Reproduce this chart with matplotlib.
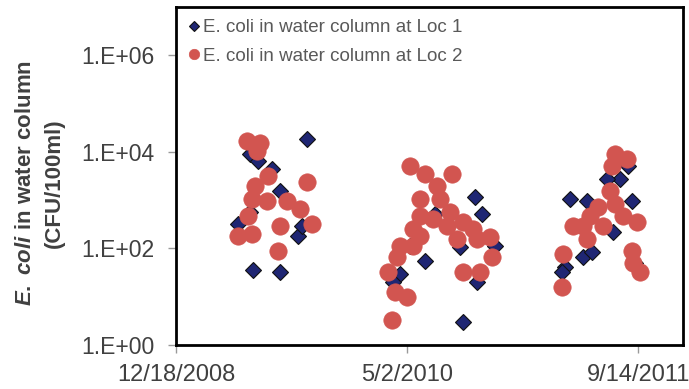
import datetime as dt
import numpy as np
import matplotlib
matplotlib.use("Agg")
import matplotlib.pyplot as plt

plt.rcParams['font.family'] = ['Liberation Sans', 'DejaVu Sans']
plt.rcParams['mathtext.fontset'] = 'custom'
plt.rcParams['mathtext.rm'] = 'Liberation Sans:bold'
plt.rcParams['mathtext.it'] = 'Liberation Sans:bold:italic'
plt.rcParams['mathtext.bf'] = 'Liberation Sans:bold'

start = dt.date(2008, 12, 18)

# sampling day (days after 12/18/2008) and E. coli CFU/100ml
loc1_day = [284, 160, 177, 208, 225, 134, 264, 167, 225, 160, 273,
            647, 662, 615, 539, 506, 690, 652, 485, 470, 621, 561,
            978, 961, 933, 853, 890, 987, 946, 881, 900, 842, 836, 994]
loc1_cfu = [18600, 9100, 6500, 4400, 1550, 316, 178, 36, 32, 560, 290,
            1150, 510, 105, 54, 110, 110, 20, 29, 20, 3, 510,
            5100, 2750, 2750, 1050, 950, 950, 215, 68, 83, 42, 33, 51]

loc2_day = [154, 182, 175, 199, 284, 171, 164, 197, 240, 268, 156, 294, 225, 134, 164, 221,
            506, 539, 597, 565, 528, 571, 528, 556, 593, 513, 587, 621, 643, 485, 513,
            478, 528, 608, 652, 680, 684, 459, 621, 658, 474, 500, 468,
            950, 976, 944, 939, 913, 950, 896, 968, 998, 859, 881, 924, 890, 987, 838,
            989, 1004, 836]
loc2_cfu = [17000, 15000, 10500, 3200, 2400, 1950, 1050, 950, 950, 650, 460, 320, 290, 180, 195, 87,
            5100, 3500, 3500, 1950, 1050, 1050, 460, 400, 560, 250, 290, 350, 250, 110, 110,
            68, 178, 155, 155, 170, 68, 32, 32, 33, 12.6, 10, 3.3,
            9100, 7100, 5100, 1550, 710, 830, 460, 460, 350, 290, 290, 290, 155, 87, 75,
            51, 32, 16]

tick_days = [0, 500, 1000]
y_ticks = [1, 1e2, 1e4, 1e6]
y_tick_labels = ['1.E+00', '1.E+02', '1.E+04', '1.E+06']


def to_dates(days):
    return [start + dt.timedelta(days=int(d)) for d in days]


fig = plt.figure(figsize=(6.89, 3.89), dpi=100)
ax = fig.add_axes([0.2554, 0.1131, 0.7359, 0.869])

ax.plot(to_dates(loc1_day), loc1_cfu, linestyle='none', marker='D', markersize=8.3,
        markerfacecolor='#1F2673', markeredgecolor='#111111', markeredgewidth=0.8,
        label='E. coli in water column at Loc 1', zorder=2)
ax.plot(to_dates(loc2_day), loc2_cfu, linestyle='none', marker='o', markersize=12.5,
        markerfacecolor='#D25550', markeredgecolor='#D25550', markeredgewidth=0.5,
        label='E. coli in water column at Loc 2', zorder=3)

ax.set_yscale('log')
ax.set_ylim(1, 1e7)
ax.set_yticks(y_ticks)
ax.set_yticklabels(y_tick_labels)
ax.yaxis.set_minor_locator(matplotlib.ticker.NullLocator())

ax.set_xlim(start, start + dt.timedelta(days=1097))
tick_dates = to_dates(tick_days)
ax.set_xticks(tick_dates)
ax.set_xticklabels([f"{d.month}/{d.day}/{d.year}" for d in tick_dates])

for s in ax.spines.values():
    s.set_linewidth(2)
    s.set_color('black')
ax.tick_params(axis='both', which='major', direction='out', length=5.5, width=1,
               color='#999999', labelsize=16.5, labelcolor='#404040')
ax.tick_params(axis='y', pad=10)
ax.tick_params(axis='x', pad=8, labelsize=17)

ax.set_ylabel("$\\it{E.\\ coli}$ in water column\n(CFU/100ml)", fontsize=16,
              fontweight='bold', color='#404040', linespacing=1.45)
ax.yaxis.set_label_coords(-0.22, 0.478)

leg = ax.legend(loc='upper left', bbox_to_anchor=(0.0, 1.0), frameon=False,
                fontsize=13.5, handlelength=0.6, handletextpad=0.2, labelspacing=0.62,
                borderaxespad=0.25, markerscale=0.6)
for t in leg.get_texts():
    t.set_color('#595959')

fig.savefig('out.png', dpi=100)
